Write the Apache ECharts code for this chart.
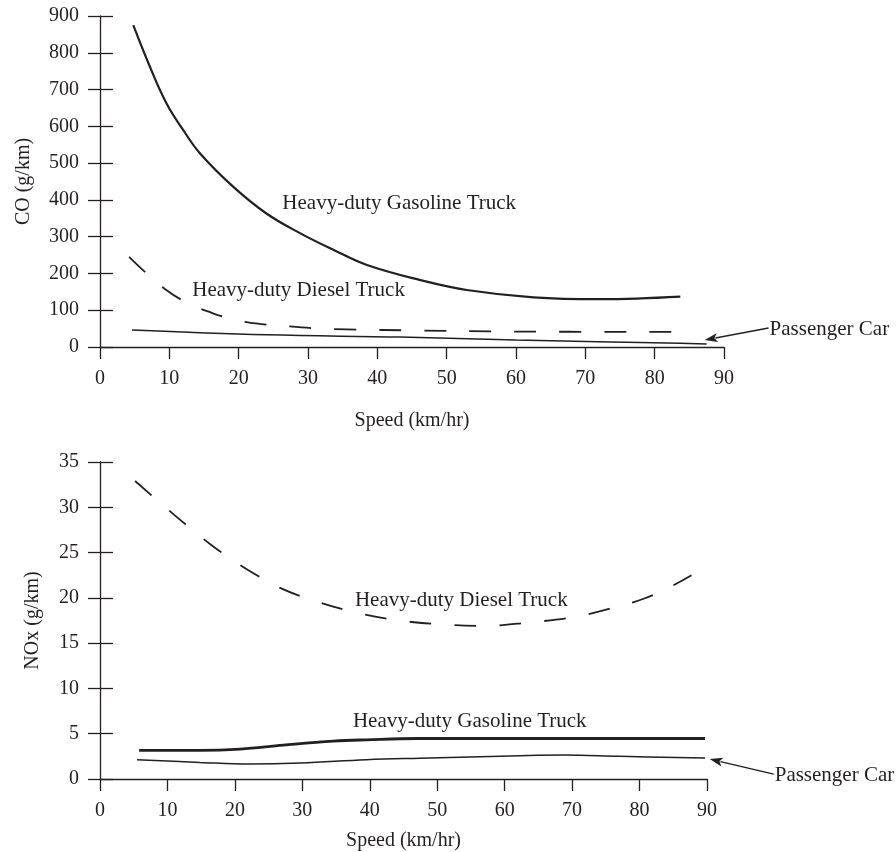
<!DOCTYPE html>
<html>
<head>
<meta charset="utf-8">
<script src="https://cdn.jsdelivr.net/npm/echarts@6/dist/echarts.min.js"></script>
<style>
  html, body { margin: 0; padding: 0; background: #fff; }
  #chart { width: 896px; height: 852px; }
</style>
</head>
<body>
<div id="chart"></div>
<script>
// CO (g/km) vs speed
var coGasSpeed = [4.8, 7.2, 9.6, 12, 14.4, 19.2, 24, 28.9, 33.7, 38.5, 46.2, 52.9, 62.5, 72.2, 83.7];
var coGas = [875, 762, 662, 590, 527, 436, 363, 309, 264, 223, 182, 155, 135, 130, 137];
var coDieselSpeed = [4.2, 6.2, 9.4, 12.7, 16.1, 19.2, 22.5, 26, 30.8, 35.6, 45.7, 60, 83.7];
var coDiesel = [245, 209, 157, 119, 93, 75, 64, 58, 51, 48, 45, 42, 41];
var coCarSpeed = [4.6, 24, 43.3, 60, 83.7, 87.5];
var coCar = [46, 33, 27, 19, 10, 8];

// NOx (g/km) vs speed
var noxDieselSpeed = [5.2, 9.7, 13.2, 16.4, 20, 23, 26.7, 30.1, 36.7, 43.5, 50.2, 56.8, 63.8, 70.4, 77.1, 80.6, 84, 87.7];
var noxDiesel = [32.9, 30.0, 27.8, 25.9, 24.0, 22.6, 21.1, 20.1, 18.6, 17.6, 17.1, 16.9, 17.3, 17.9, 19.1, 19.9, 21.0, 22.5];
var noxGasSpeed = [5.8, 14.8, 20.8, 27.2, 34.6, 39.5, 47, 60, 75, 89.7];
var noxGas = [3.15, 3.15, 3.3, 3.74, 4.18, 4.33, 4.47, 4.47, 4.47, 4.47];
var noxCarSpeed = [5.5, 14.8, 22.2, 29.7, 39.5, 47.4, 62.3, 68.7, 77.1, 89.7];
var noxCar = [2.13, 1.83, 1.65, 1.76, 2.13, 2.3, 2.57, 2.64, 2.5, 2.31];

var speedTicks = [0, 10, 20, 30, 40, 50, 60, 70, 80, 90];
var coTicks = [0, 100, 200, 300, 400, 500, 600, 700, 800, 900];
var noxTicks = [0, 5, 10, 15, 20, 25, 30, 35];

var FONT = 'Liberation Serif';
var INK = '#231f20';

function pairs(xs, ys) {
  return xs.map(function (x, i) { return [x, ys[i]]; });
}

function xAxisFor(grid, gap) {
  return {
    type: 'value', gridIndex: grid,
    min: speedTicks[0], max: speedTicks[speedTicks.length - 1], interval: 10,
    name: 'Speed (km/hr)', nameLocation: 'middle', nameGap: gap,
    nameTextStyle: { fontFamily: FONT, fontSize: 20, color: INK },
    axisLine: { lineStyle: { color: INK, width: 1.3 } },
    axisTick: { length: 12, lineStyle: { color: INK, width: 1.3 } },
    axisLabel: { margin: 22, fontFamily: FONT, fontSize: 20, color: INK },
    splitLine: { show: false }
  };
}

function yAxisFor(grid, ticks, name, gap) {
  var step = ticks[1] - ticks[0];
  var base = {
    type: 'value', gridIndex: grid, position: 'left',
    min: ticks[0], max: ticks[ticks.length - 1], interval: step,
    splitLine: { show: false }
  };
  // outer ticks + labels
  var outer = Object.assign({}, base, {
    name: name, nameLocation: 'middle', nameGap: gap,
    nameTextStyle: { fontFamily: FONT, fontSize: 20, color: INK },
    axisLine: { show: true, lineStyle: { color: INK, width: 1.3 } },
    axisTick: { length: 12, lineStyle: { color: INK, width: 1.3 } },
    axisLabel: { margin: 21, fontFamily: FONT, fontSize: 20, color: INK }
  });
  // inner half of the crossing ticks
  var inner = Object.assign({}, base, {
    axisLine: { show: false },
    axisTick: { inside: true, length: 13, lineStyle: { color: INK, width: 1.3 } },
    axisLabel: { show: false }
  });
  return [outer, inner];
}

function curve(x, y, xs, ys, width, dashed) {
  return {
    type: 'line', xAxisIndex: x, yAxisIndex: y,
    data: pairs(xs, ys),
    smooth: 0.4, showSymbol: false, silent: true,
    lineStyle: { color: INK, width: width, type: dashed ? [22, 23] : 'solid' }
  };
}

var yTop = yAxisFor(0, coTicks, 'CO (g/km)', 66);
var yBot = yAxisFor(1, noxTicks, 'NOx (g/km)', 57);

var option = {
  animation: false,
  backgroundColor: '#fff',
  grid: [
    { left: 100, right: 172, top: 16, bottom: 505 },
    { left: 100, right: 189, top: 462, bottom: 72 }
  ],
  xAxis: [xAxisFor(0, 64), xAxisFor(1, 52)],
  yAxis: [yTop[0], yTop[1], yBot[0], yBot[1]],
  series: [
    curve(0, 0, coGasSpeed, coGas, 2.2, false),
    curve(0, 0, coDieselSpeed, coDiesel, 1.8, true),
    curve(0, 0, coCarSpeed, coCar, 1.5, false),
    curve(1, 2, noxDieselSpeed, noxDiesel, 1.8, true),
    curve(1, 2, noxGasSpeed, noxGas, 2.8, false),
    curve(1, 2, noxCarSpeed, noxCar, 1.5, false)
  ]
};

var chart = echarts.init(document.getElementById('chart'), null, { renderer: 'canvas' });
chart.setOption(option);

// annotations placed from data coordinates
function px(grid, pt) {
  return chart.convertToPixel({ gridIndex: grid }, pt);
}
function label(grid, pt, txt) {
  var p = px(grid, pt);
  return {
    type: 'text', x: p[0], y: p[1], silent: true,
    style: { text: txt, fontFamily: FONT, fontSize: 21, fill: INK, verticalAlign: 'middle' }
  };
}
function arrow(grid, headPt, dx, dy, txt) {
  var h = px(grid, headPt);
  var t = [h[0] + dx, h[1] + dy];
  var len = Math.sqrt(dx * dx + dy * dy);
  var ux = dx / len, uy = dy / len;
  var hl = 13, hw = 4.5;
  var bx = h[0] + ux * hl, by = h[1] + uy * hl;
  return [
    { type: 'line', silent: true,
      shape: { x1: bx - ux * 2, y1: by - uy * 2, x2: t[0], y2: t[1] },
      style: { stroke: INK, lineWidth: 1.4 } },
    { type: 'polygon', silent: true,
      shape: { points: [[h[0], h[1]], [bx - uy * hw, by + ux * hw], [bx - ux * 3, by - uy * 3], [bx + uy * hw, by - ux * hw]] },
      style: { fill: INK } },
    { type: 'text', x: t[0] + 1, y: t[1] + 1, silent: true,
      style: { text: txt, fontFamily: FONT, fontSize: 21, fill: INK, verticalAlign: 'middle' } }
  ];
}

var graphics = [
  label(0, [26.3, 389], 'Heavy-duty Gasoline Truck'),
  label(0, [13.3, 155], 'Heavy-duty Diesel Truck'),
  label(1, [37.8, 19.7], 'Heavy-duty Diesel Truck'),
  label(1, [37.5, 6.4], 'Heavy-duty Gasoline Truck')
].concat(arrow(0, [87.2, 19], 64, -12, 'Passenger Car'))
 .concat(arrow(1, [90.4, 2.2], 64, 15, 'Passenger Car'));

chart.setOption({ graphic: graphics });
</script>
</body>
</html>
